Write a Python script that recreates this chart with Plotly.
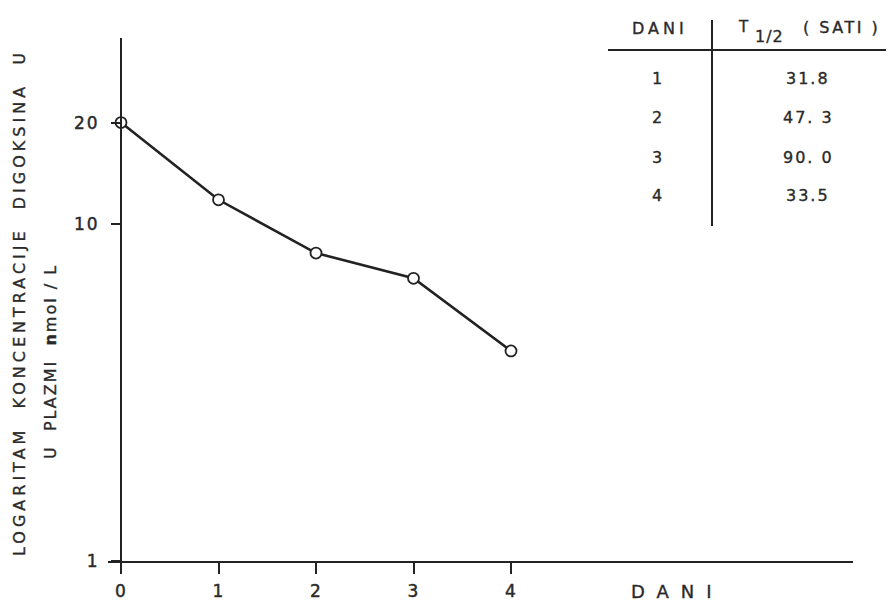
import plotly.graph_objects as go

# ---- data ----
days = [0, 1, 2, 3, 4]
concentration = [20, 11.8, 8.2, 6.9, 4.2]          # nmol/L (log scale)
y_tickvals = [1, 10, 20]
y_ticktext = ["1", "10", "20"]
x_tickvals = [0, 1, 2, 3, 4]
x_ticktext = ["0", "1", "2", "3", "4"]

table_days = ["1", "2", "3", "4"]
table_thalf = ["31.8", "47. 3", "90. 0", "33.5"]

W, H = 894, 605
OFF = 8  # page body margin offset

# target pixel positions in the screenshot
PL, PR, PT, PB = 108, 853, 38, 561
ML, MR = PL - OFF, W - (PR - OFF)
MT, MB = PT - OFF, H - (PB - OFF)
PW, PH = PR - PL, PB - PT

X0_PX = 121          # pixel of x = 0
X_UNIT = (511 - 121) / 4

ink = "#222222"
txt = "#2a2a2a"
FONT = "DejaVu Sans"


def px(x):
    return (x - PL) / PW


def py(y):
    return (PB - y) / PH


def sp(text, ls, sw=0.35):
    return ('<span style="letter-spacing:%spx;stroke:%s;stroke-width:%spx">%s</span>'
            % (ls, txt, sw, text))


fig = go.Figure()
fig.add_trace(go.Scatter(
    x=days, y=concentration, mode="lines+markers",
    line=dict(color=ink, width=2.6),
    marker=dict(symbol="circle", size=11, color="white",
                line=dict(color=ink, width=1.8)),
    showlegend=False, cliponaxis=False,
))

fig.update_layout(
    width=W, height=H,
    margin=dict(l=ML, r=MR, t=MT, b=MB, autoexpand=False),
    paper_bgcolor="white", plot_bgcolor="white",
    font=dict(family=FONT, color=txt, size=16),
    xaxis=dict(
        range=[-(X0_PX - PL) / X_UNIT, (PR - X0_PX) / X_UNIT],
        tickvals=x_tickvals, ticktext=[sp(t, 1, 0.45) for t in x_ticktext],
        ticks="outside", ticklen=11, tickwidth=2,
        tickcolor=ink, showline=True, linecolor=ink, linewidth=2,
        showgrid=False, zeroline=False, tickfont=dict(size=17, color=txt),
        ticklabelstandoff=3, automargin=False,
    ),
    yaxis=dict(
        type="log", range=[0, (PB - PT) / 337],
        tickvals=y_tickvals, ticktext=[sp(t, 2, 0.45) for t in y_ticktext],
        ticks="outside", ticklen=9, tickwidth=2, tickcolor=ink,
        showline=True, linecolor=ink, linewidth=2,
        showgrid=False, zeroline=False,
        anchor="free", position=(X0_PX - PL) / PW,
        tickfont=dict(size=17, color=txt), ticklabelstandoff=8,
        automargin=False,
    ),
)


def note(text, x, y, size=16, angle=0):
    return dict(text=text, x=px(x), y=py(y), xref="paper", yref="paper",
                xanchor="center", yanchor="middle", textangle=angle,
                showarrow=False, font=dict(size=size, color=txt))


ann = []
# axis titles
ann.append(note(sp("LOGARITAM  KONCENTRACIJE  DIGOKSINA  U", 4), 20, 303, 16, -90))
ann.append(note(sp("U  PLAZMI  <b>n</b>mol / L", 2), 50, 362, 16, -90))
ann.append(note(sp("DANI", 12), 677, 591, 18))

# table
ann.append(note(sp("DANI", 4), 660, 29))
ann.append(note(sp("T", 0), 743, 27, 15))
ann.append(note(sp("1/2", 1), 769, 36))
ann.append(note(sp("( SATI )", 2.5), 841, 28))
row_y = [78, 118, 157, 195]
for d, t, ry in zip(table_days, table_thalf, row_y):
    ann.append(note(sp(d, 0), 657, ry))
    ann.append(note(sp(t, 2), 808, ry))
fig.update_layout(annotations=ann)

fig.update_layout(shapes=[
    dict(type="line", xref="paper", yref="paper",
         x0=px(608), x1=px(894), y0=py(50), y1=py(50),
         line=dict(color=ink, width=2)),
    dict(type="line", xref="paper", yref="paper",
         x0=px(712), x1=px(712), y0=py(20), y1=py(226),
         line=dict(color=ink, width=2)),
])

fig.write_html("out.html")
